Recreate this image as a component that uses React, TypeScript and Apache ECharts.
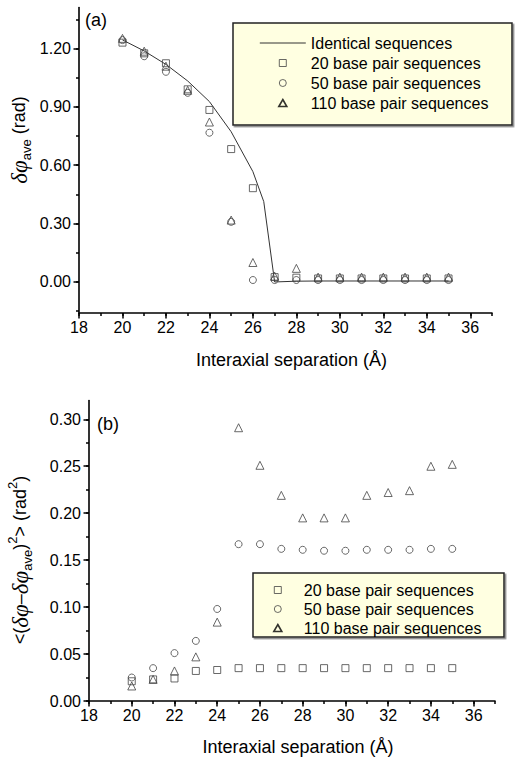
import React, { useEffect, useRef } from 'react';
import * as echarts from 'echarts';

// ---------- data ----------
const xTop = [20, 21, 22, 23, 24, 25, 26, 27, 28, 29, 30, 31, 32, 33, 34, 35];
const topSq20 = [1.23, 1.175, 1.124, 0.99, 0.884, 0.683, 0.482, 0.025, 0.022, 0.018, 0.018, 0.018, 0.018, 0.018, 0.018, 0.018];
const topCi50 = [1.243, 1.16, 1.08, 0.972, 0.767, 0.309, 0.01, 0.01, 0.01, 0.01, 0.01, 0.01, 0.01, 0.01, 0.01, 0.01];
const topTri110 = [1.252, 1.186, 1.109, 0.985, 0.822, 0.318, 0.1, 0.03, 0.07, 0.025, 0.025, 0.025, 0.025, 0.025, 0.025, 0.025];
const identX = [20, 21, 22, 23, 24, 25, 26, 26.5, 27, 28, 29, 30, 31, 32, 33, 34, 35];
const identY = [1.244, 1.187, 1.118, 1.033, 0.927, 0.772, 0.567, 0.413, 0.0, 0.004, 0.005, 0.005, 0.005, 0.005, 0.005, 0.005, 0.005];

const xBot = [20, 21, 22, 23, 24, 25, 26, 27, 28, 29, 30, 31, 32, 33, 34, 35];
const botSq20 = [0.021, 0.023, 0.024, 0.032, 0.033, 0.035, 0.035, 0.035, 0.035, 0.035, 0.035, 0.035, 0.035, 0.035, 0.035, 0.035];
const botCi50 = [0.025, 0.035, 0.051, 0.064, 0.098, 0.167, 0.167, 0.162, 0.161, 0.16, 0.16, 0.161, 0.161, 0.161, 0.162, 0.162];
const botTri110 = [0.016, 0.023, 0.032, 0.047, 0.084, 0.291, 0.251, 0.219, 0.195, 0.195, 0.195, 0.219, 0.222, 0.224, 0.25, 0.252];

const NAME_IDENT = 'Identical sequences';
const NAME_20 = '20 base pair sequences';
const NAME_50 = '50 base pair sequences';
const NAME_110 = '110 base pair sequences';
const X_TITLE = 'Interaxial separation (Å)';

// ---------- layout ----------
const SANS = '"Liberation Sans", Arial, sans-serif';
const SERIF = '"Liberation Serif", "Times New Roman", serif';

type Box = { left: number; top: number; width: number; height: number };
type Rng = [number, number];
type TickSpec = { min: number; max: number; interval: number };

const topBox: Box = { left: 79, top: 7.6, width: 413, height: 305.5 };
const topX: Rng = [18, 37];
const topY: Rng = [-0.16, 1.41];
const botBox: Box = { left: 89, top: 400.5, width: 406, height: 300.5 };
const botX: Rng = [18, 37];
const botY: Rng = [0, 0.32];

const pxOf = (b: Box, r: Rng, v: number) => b.left + ((v - r[0]) / (r[1] - r[0])) * b.width;
const pyOf = (b: Box, r: Rng, v: number) => b.top + ((r[1] - v) / (r[1] - r[0])) * b.height;

function panel(
  box: Box, xr: Rng, yr: Rng,
  xMinor: TickSpec, yMinor: TickSpec, xMajor: TickSpec, yMajor: TickSpec,
  yDigits: number, gridBase: number
) {
  const grids: any[] = [];
  const xAxes: any[] = [];
  const yAxes: any[] = [];
  grids.push({ left: box.left, top: box.top, width: box.width, height: box.height, containLabel: false, outerBoundsMode: 'none' });
  xAxes.push({
    type: 'value', gridIndex: gridBase, position: 'bottom', min: xr[0], max: xr[1],
    axisLine: { show: true, onZero: false, lineStyle: { color: '#000', width: 1.6 } },
    axisTick: { show: false }, axisLabel: { show: false }, splitLine: { show: false },
  });
  yAxes.push({
    type: 'value', gridIndex: gridBase, position: 'left', min: yr[0], max: yr[1],
    axisLine: { show: true, onZero: false, lineStyle: { color: '#000', width: 1.6 } },
    axisTick: { show: false }, axisLabel: { show: false }, splitLine: { show: false },
  });
  const tickGrid = (xt: TickSpec, yt: TickSpec, len: number, labels: boolean, gi: number) => {
    const l = pxOf(box, xr, xt.min);
    const r = pxOf(box, xr, xt.max);
    const t = pyOf(box, yr, yt.max);
    const bt = pyOf(box, yr, yt.min);
    grids.push({ left: l, top: t, width: r - l, height: bt - t, containLabel: false, outerBoundsMode: 'none' });
    xAxes.push({
      type: 'value', gridIndex: gi, position: 'bottom', min: xt.min, max: xt.max, interval: xt.interval,
      offset: box.top + box.height - bt,
      axisLine: { show: false, onZero: false },
      axisTick: { show: true, length: len, inside: false, lineStyle: { color: '#000', width: 1.5 } },
      axisLabel: labels
        ? { show: true, color: '#000', fontSize: 16, fontFamily: SANS, margin: 6, formatter: (v: number) => String(Math.round(v)) }
        : { show: false },
      splitLine: { show: false },
    });
    yAxes.push({
      type: 'value', gridIndex: gi, position: 'left', min: yt.min, max: yt.max, interval: yt.interval,
      offset: l - box.left,
      axisLine: { show: false, onZero: false },
      axisTick: { show: true, length: len, inside: false, lineStyle: { color: '#000', width: 1.5 } },
      axisLabel: labels
        ? { show: true, color: '#000', fontSize: 16, fontFamily: SANS, margin: 8, formatter: (v: number) => v.toFixed(yDigits) }
        : { show: false },
      splitLine: { show: false },
    });
  };
  tickGrid(xMinor, yMinor, 3, false, gridBase + 1);
  tickGrid(xMajor, yMajor, 5.5, true, gridBase + 2);
  return { grids, xAxes, yAxes };
}

const pTop = panel(
  topBox, topX, topY,
  { min: 18, max: 37, interval: 1 }, { min: -0.15, max: 1.35, interval: 0.15 },
  { min: 18, max: 36, interval: 2 }, { min: 0, max: 1.2, interval: 0.3 },
  2, 0
);
const pBot = panel(
  botBox, botX, botY,
  { min: 18, max: 37, interval: 1 }, { min: 0, max: 0.3, interval: 0.025 },
  { min: 18, max: 36, interval: 2 }, { min: 0, max: 0.3, interval: 0.05 },
  2, 3
);

const markerStyle = { color: 'rgba(0,0,0,0)', borderColor: '#444', borderWidth: 1 };
const pairs = (xs: number[], ys: number[]) => xs.map((x, i) => [x, ys[i]]);
const scatter = (name: string, symbol: string, size: number, xs: number[], ys: number[], gi: number) => ({
  name, type: 'scatter', xAxisIndex: gi, yAxisIndex: gi, symbol, symbolSize: size,
  itemStyle: markerStyle, data: pairs(xs, ys), silent: true, z: 5,
});

// legend icons: bounding box w x 8, glyph centred
const iconLine = (w: number) => `path://M0,0 M${w},8 M0,4 L${w},4`;
const iconSq = (w: number) => `path://M0,0 M${w},8 M${w / 2 - 3.5},0.5 L${w / 2 + 3.5},0.5 L${w / 2 + 3.5},7.5 L${w / 2 - 3.5},7.5 Z`;
const iconCi = (w: number) => `path://M0,0 M${w},8 M${w / 2 + 3.5},4 A3.5,3.5 0 1 1 ${w / 2 - 3.5},4 A3.5,3.5 0 1 1 ${w / 2 + 3.5},4 Z`;
const iconTri = (w: number) => `path://M0,0 M${w},8 M${w / 2},0.5 L${w / 2 + 4},7.5 L${w / 2 - 4},7.5 Z`;
const legendMarker = { color: 'rgba(0,0,0,0)', borderColor: '#444', borderWidth: 1 };

const richBase = {
  g: { fontFamily: SERIF, fontStyle: 'italic', fontSize: 23, lineHeight: 28, color: '#000' },
  s: { fontFamily: SANS, fontSize: 13, lineHeight: 13, verticalAlign: 'bottom', color: '#000' },
  p: { fontFamily: SANS, fontSize: 13, lineHeight: 13, verticalAlign: 'top', color: '#000' },
  n: { fontFamily: SANS, fontSize: 18, lineHeight: 28, color: '#000' },
};

export default function App() {
  const ref = useRef<HTMLDivElement>(null);
  useEffect(() => {
    if (!ref.current) return;
    const chart = echarts.init(ref.current, undefined, { renderer: 'svg' });
    const legendCommon = {
      orient: 'vertical', padding: 0, itemGap: 0, itemHeight: 8,
      selectedMode: false, z: 10,
    };
    const option: any = {
      animation: false,
      backgroundColor: '#ffffff',
      textStyle: { fontFamily: SANS },
      grid: [...pTop.grids, ...pBot.grids],
      xAxis: [
        ...pTop.xAxes.map((a, i) => (i === 0 ? { ...a, name: X_TITLE, nameLocation: 'middle', nameGap: 38, nameTextStyle: { fontSize: 18, color: '#000', fontFamily: SANS, padding: [0, 0, 0, 12] } } : a)),
        ...pBot.xAxes.map((a, i) => (i === 0 ? { ...a, name: X_TITLE, nameLocation: 'middle', nameGap: 37, nameTextStyle: { fontSize: 18, color: '#000', fontFamily: SANS, padding: [0, 0, 0, 12] } } : a)),
      ],
      yAxis: [...pTop.yAxes, ...pBot.yAxes],
      legend: [
        {
          ...legendCommon, left: 259, top: 33, itemWidth: 46,
          textStyle: { fontSize: 16, color: '#000', fontFamily: SANS, lineHeight: 20 },
          data: [
            { name: NAME_IDENT, icon: iconLine(46), itemStyle: { color: 'rgba(0,0,0,0)', borderColor: '#333', borderWidth: 1 } },
            { name: NAME_20, icon: iconSq(46), itemStyle: legendMarker },
            { name: NAME_50, icon: iconCi(46), itemStyle: legendMarker },
            { name: NAME_110, icon: iconTri(46), itemStyle: { color: 'rgba(0,0,0,0)', borderColor: '#000', borderWidth: 1.6 } },
          ],
        },
        {
          ...legendCommon, left: 256, top: 580.5, itemWidth: 42,
          textStyle: { fontSize: 16, color: '#000', fontFamily: SANS, lineHeight: 19 },
          data: [
            { name: NAME_20, icon: iconSq(42), itemStyle: legendMarker },
            { name: NAME_50, icon: iconCi(42), itemStyle: legendMarker },
            { name: NAME_110, icon: iconTri(42), itemStyle: { color: 'rgba(0,0,0,0)', borderColor: '#000', borderWidth: 1.6 } },
          ],
        },
      ],
      graphic: {
        elements: [
          {
            type: 'rect', z: 1, shape: { x: 233, y: 23, width: 279, height: 102 },
            style: { fill: '#FFFFE1', stroke: '#222', lineWidth: 1.5, shadowColor: '#888', shadowOffsetX: 1.5, shadowOffsetY: 1.5, shadowBlur: 0 },
          },
          {
            type: 'rect', z: 1, shape: { x: 253, y: 573, width: 251, height: 64 },
            style: { fill: '#FFFFE1', stroke: '#222', lineWidth: 1.5, shadowColor: '#888', shadowOffsetX: 1.5, shadowOffsetY: 1.5, shadowBlur: 0 },
          },
          { type: 'text', x: 96, y: 20, z: 10, style: { text: '(a)', fill: '#000', font: `18px ${SANS}`, align: 'center', verticalAlign: 'middle' } },
          { type: 'text', x: 108, y: 424, z: 10, style: { text: '(b)', fill: '#000', font: `18px ${SANS}`, align: 'center', verticalAlign: 'middle' } },
          {
            type: 'text', x: 19, y: 140, rotation: Math.PI / 2, z: 10,
            style: { text: '{g|δφ}{s|ave}{n| (rad)}', rich: richBase, align: 'center', verticalAlign: 'middle', fill: '#000' },
          },
          {
            type: 'text', x: 20, y: 560, rotation: Math.PI / 2, z: 10,
            style: { text: '{n|<(}{g|δφ}{n|–}{g|δφ}{s|ave}{n|)}{p|2}{n|> (rad}{p|2}{n|)}', rich: richBase, align: 'center', verticalAlign: 'middle', fill: '#000' },
          },
        ],
      },
      series: [
        {
          name: NAME_IDENT, type: 'line', xAxisIndex: 0, yAxisIndex: 0, symbol: 'none', silent: true,
          lineStyle: { color: '#333', width: 1 }, itemStyle: { color: '#333' }, data: pairs(identX, identY), z: 4,
        },
        scatter(NAME_20, 'rect', 7, xTop, topSq20, 0),
        scatter(NAME_50, 'circle', 7, xTop, topCi50, 0),
        scatter(NAME_110, 'triangle', 8, xTop, topTri110, 0),
        scatter(NAME_20, 'rect', 7, xBot, botSq20, 3),
        scatter(NAME_50, 'circle', 7, xBot, botCi50, 3),
        scatter(NAME_110, 'triangle', 8, xBot, botTri110, 3),
      ],
    };
    chart.setOption(option);
    return () => chart.dispose();
  }, []);
  return (
    <div
      ref={ref}
      style={{ position: 'fixed', left: 0, top: 0, width: 515, height: 760, background: '#fff' }}
    />
  );
}
